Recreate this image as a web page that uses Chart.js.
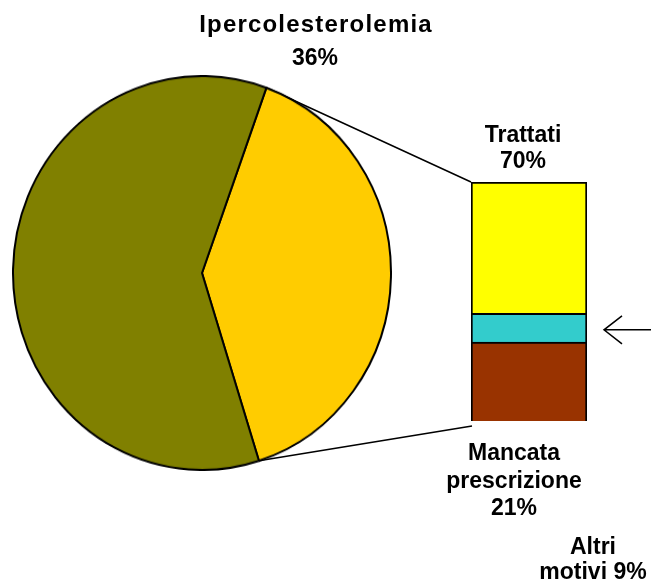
<!DOCTYPE html>
<html>
<head>
<meta charset="utf-8">
<script src="https://cdn.jsdelivr.net/npm/chart.js@4.4.1/dist/chart.umd.min.js"></script>
<style>
  html, body { margin: 0; padding: 0; background: #fff; }
  #wrap { position: relative; width: 651px; height: 581px; overflow: hidden; }
  #wrap canvas { position: absolute; }
</style>
</head>
<body>
<div id="wrap">
  <canvas id="bar" width="651" height="581" style="left:0;top:0;width:651px;height:581px"></canvas>
  <canvas id="pie" width="380" height="380" style="left:12px;top:75px;width:380px;height:396px"></canvas>
</div>
<script>
// pie: share of the highlighted slice as drawn (label says 36%)
const pieLabels = ["Ipercolesterolemia", "Altro"];
const pieValues = [39.6, 60.4];
const pieColors = ["#FFCC00", "#808000"];

// stacked bar, bottom to top
const barLabels = ["Mancata prescrizione", "Altri motivi", "Trattati"];
const barValues = [33, 12, 55];
const barColors = ["#993300", "#33CCCC", "#FFFF00"];

const titleText = ["Ipercolesterolemia", "36%"];
const trattatiText = ["Trattati", "70%"];
const mancataText = ["Mancata", "prescrizione", "21%"];
const altriText = ["Altri", "motivi 9%"];

const font = "bold 23px 'Liberation Sans', Arial, sans-serif";

const pieChart = new Chart(document.getElementById("pie"), {
  type: "pie",
  data: {
    labels: pieLabels,
    datasets: [
      {
        data: pieValues,
        backgroundColor: pieColors,
        borderColor: "#000",
        borderWidth: 2,
      },
    ],
  },
  options: {
    responsive: false,
    animation: false,
    rotation: 19.9,
    layout: { padding: 0 },
    plugins: { legend: { display: false }, tooltip: { enabled: false } },
  },
});

function drawLines(ctx, lines, x, y, step) {
  lines.forEach((t, i) => ctx.fillText(t, x, y + i * step));
}

const overlay = {
  id: "overlay",
  afterDraw(chart) {
    const ctx = chart.ctx;
    const pc = pieChart.canvas;
    const sx = pc.offsetWidth / pc.width;
    const sy = pc.offsetHeight / pc.height;
    const arc = pieChart
      .getDatasetMeta(0)
      .data[0].getProps(["x", "y", "startAngle", "endAngle", "outerRadius"], true);
    const onPie = (a) => ({
      x: pc.offsetLeft + (arc.x + arc.outerRadius * Math.cos(a)) * sx,
      y: pc.offsetTop + (arc.y + arc.outerRadius * Math.sin(a)) * sy,
    });
    const top = chart.getDatasetMeta(2).data[0];
    const mid = chart.getDatasetMeta(1).data[0];
    const bottom = chart.getDatasetMeta(0).data[0];
    const left = top.x - top.width / 2;
    const right = top.x + top.width / 2;

    ctx.save();
    ctx.strokeStyle = "#000";
    ctx.lineWidth = 1.5;

    // connectors pie -> bar
    const p1 = onPie(arc.startAngle);
    const p2 = onPie(arc.endAngle);
    ctx.beginPath();
    ctx.moveTo(p1.x, p1.y);
    ctx.lineTo(left, top.y);
    ctx.moveTo(p2.x, p2.y);
    ctx.lineTo(left + 1, bottom.base + 5);
    ctx.stroke();

    // arrow pointing at "altri motivi"
    const ay = (mid.y + mid.base) / 2 + 2;
    const tip = right + 17;
    ctx.beginPath();
    ctx.moveTo(chart.width, ay);
    ctx.lineTo(tip, ay);
    ctx.moveTo(tip + 18, ay - 14);
    ctx.lineTo(tip, ay);
    ctx.lineTo(tip + 18, ay + 14);
    ctx.stroke();

    // labels
    ctx.fillStyle = "#000";
    ctx.textAlign = "center";
    ctx.textBaseline = "alphabetic";
    ctx.font = "bold 24px 'Liberation Sans', Arial, sans-serif";
    ctx.letterSpacing = "1.2px";
    ctx.fillText(titleText[0], 316, 32);
    ctx.letterSpacing = "0px";
    ctx.font = font;
    ctx.fillText(titleText[1], 315, 65);
    drawLines(ctx, trattatiText, 523, 142, 26);
    drawLines(ctx, mancataText, 514, 460, 27.5);
    drawLines(ctx, altriText, 593, 554, 25);
    ctx.restore();
  },
};

const barChart = new Chart(document.getElementById("bar"), {
  type: "bar",
  data: {
    labels: [""],
    datasets: barLabels.map((label, i) => ({
      label,
      data: [barValues[i]],
      backgroundColor: barColors[i],
      borderColor: "#000",
      borderWidth: 2,
      barPercentage: 1,
      categoryPercentage: 1,
    })),
  },
  options: {
    responsive: false,
    animation: false,
    layout: { padding: { left: 471, right: 64, top: 182, bottom: 160 } },
    scales: {
      x: { stacked: true, display: false },
      y: { stacked: true, display: false, min: 0, max: 100 },
    },
    plugins: { legend: { display: false }, tooltip: { enabled: false } },
  },
  plugins: [overlay],
});
</script>
</body>
</html>
